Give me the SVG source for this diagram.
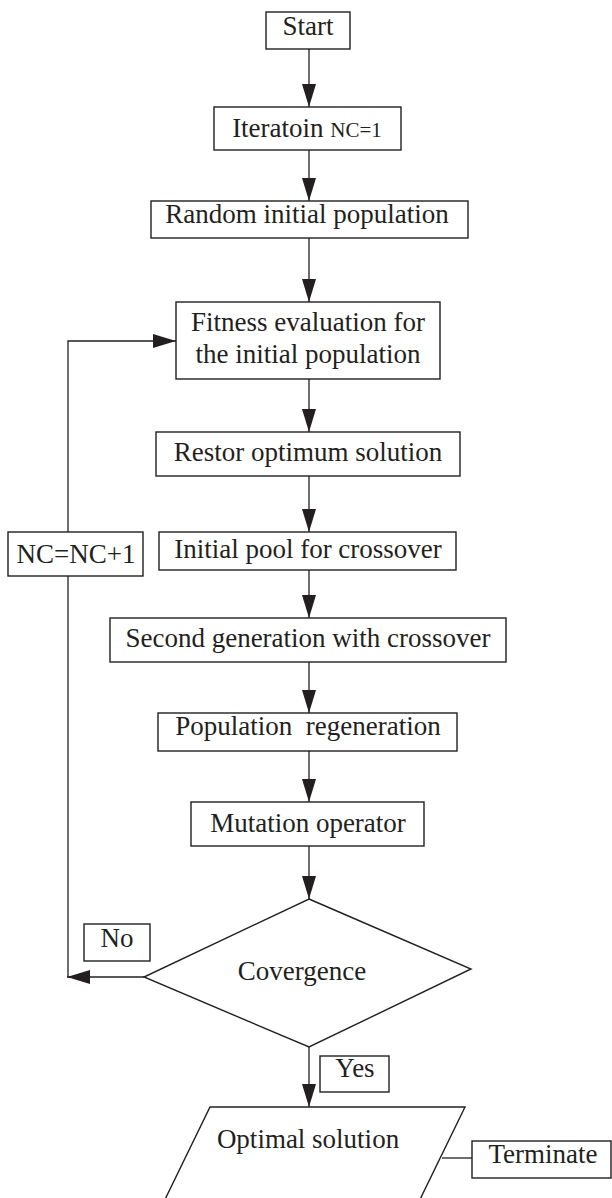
<svg xmlns="http://www.w3.org/2000/svg" width="612" height="1198" viewBox="0 0 612 1198">
<style>
.box{fill:#ffffff;stroke:#231f20;stroke-width:1.4}
.ln{fill:none;stroke:#231f20;stroke-width:1.3}
.t{font-family:"Liberation Serif","Times New Roman",serif;font-size:27px;fill:#231f20;text-anchor:middle}
.s{font-size:21px}
</style>
<defs>
<marker id="ah" markerUnits="userSpaceOnUse" markerWidth="23" markerHeight="14" viewBox="0 0 23 14" refX="23" refY="7" orient="auto">
<path d="M0,0 L23,7 L0,14 Z" fill="#231f20"/>
</marker>
</defs>
<rect width="612" height="1198" fill="#ffffff"/>
<g id="connectors">
<line class="ln" x1="309" y1="49" x2="309" y2="107" marker-end="url(#ah)"/>
<line class="ln" x1="309" y1="150" x2="309" y2="201" marker-end="url(#ah)"/>
<line class="ln" x1="309" y1="238" x2="309" y2="302" marker-end="url(#ah)"/>
<line class="ln" x1="309" y1="379" x2="309" y2="432" marker-end="url(#ah)"/>
<line class="ln" x1="309" y1="476" x2="309" y2="532" marker-end="url(#ah)"/>
<line class="ln" x1="309" y1="570" x2="309" y2="618" marker-end="url(#ah)"/>
<line class="ln" x1="309" y1="662" x2="309" y2="713" marker-end="url(#ah)"/>
<line class="ln" x1="309" y1="751" x2="309" y2="802" marker-end="url(#ah)"/>
<line class="ln" x1="309" y1="846" x2="309" y2="899" marker-end="url(#ah)"/>
<line class="ln" x1="309" y1="1047" x2="309" y2="1107" marker-end="url(#ah)"/>
<line class="ln" x1="144" y1="977" x2="67" y2="977" marker-end="url(#ah)"/>
<polyline class="ln" points="68,977 68,576"/>
<polyline class="ln" points="68,532 68,341 176,341" marker-end="url(#ah)"/>
<line class="ln" x1="442" y1="1158" x2="472" y2="1158"/>
</g>
<g id="start"><rect class="box" x="266" y="12" width="84" height="37"/><text class="t" x="308" y="35">Start</text></g>
<g id="iteration"><rect class="box" x="214" y="107" width="187" height="43"/><text class="t" x="307" y="137">Iteratoin <tspan class="s">NC=1</tspan></text></g>
<g id="random"><rect class="box" x="151" y="201" width="317" height="37"/><text class="t" x="307" y="223">Random initial population</text></g>
<g id="fitness"><rect class="box" x="176" y="302" width="264" height="77"/><text class="t" x="308" y="331">Fitness evaluation for</text><text class="t" x="308" y="363">the initial population</text></g>
<g id="restor"><rect class="box" x="156" y="432" width="304" height="44"/><text class="t" x="308" y="461">Restor optimum solution</text></g>
<g id="ncinc"><rect class="box" x="8" y="532" width="135" height="44"/><text class="t" x="76" y="563">NC=NC+1</text></g>
<g id="pool"><rect class="box" x="159" y="532" width="297" height="38"/><text class="t" x="308" y="558">Initial pool for crossover</text></g>
<g id="second"><rect class="box" x="110" y="618" width="396" height="44"/><text class="t" x="308" y="647">Second generation with crossover</text></g>
<g id="regen"><rect class="box" x="158" y="713" width="299" height="38"/><text class="t" x="308" y="735" xml:space="preserve">Population  regeneration</text></g>
<g id="mutation"><rect class="box" x="191" y="802" width="233" height="44"/><text class="t" x="308" y="832">Mutation operator</text></g>
<g id="convergence"><polygon class="box" points="309,899 471,969 309,1047 144,977"/><text class="t" x="302" y="980">Covergence</text></g>
<g id="no"><rect class="box" x="84" y="924" width="66" height="37"/><text class="t" x="117" y="947">No</text></g>
<g id="yes"><rect class="box" x="320" y="1056" width="69" height="36"/><text class="t" x="355" y="1077">Yes</text></g>
<g id="optimal"><polygon class="box" points="210,1107 465,1107 410,1220 155,1220"/><text class="t" x="308" y="1148">Optimal solution</text></g>
<g id="terminate"><rect class="box" x="472" y="1141" width="139" height="37"/><text class="t" x="543" y="1163">Terminate</text></g>
</svg>
